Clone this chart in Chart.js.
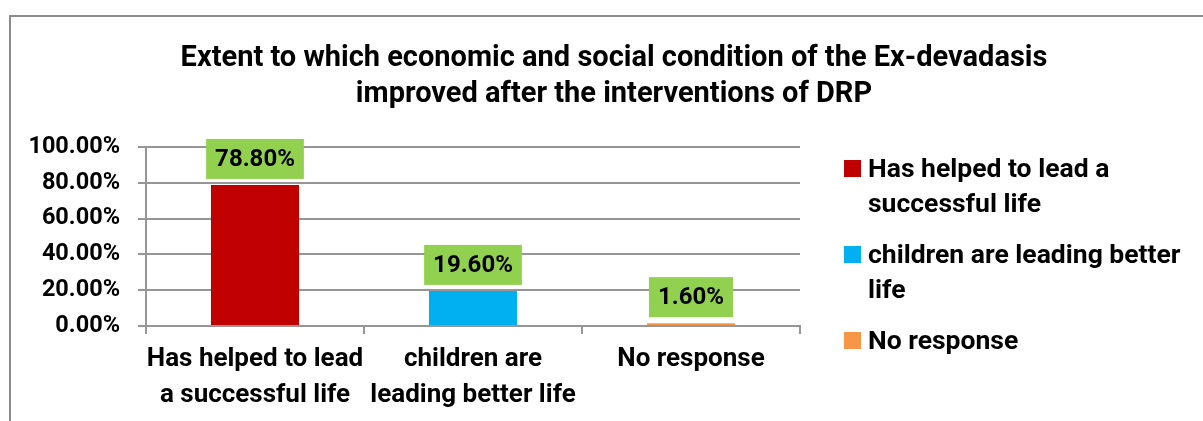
<!DOCTYPE html>
<html>
<head>
<meta charset="utf-8">
<script src="https://cdn.jsdelivr.net/npm/chart.js@4.4.1/dist/chart.umd.min.js"></script>
<style>
html, body { margin: 0; padding: 0; background: #fff; }
</style>
</head>
<body>
<canvas id="chart" width="1203" height="421"></canvas>
<script>
'use strict';

const TITLE_LINES = ['Extent to which economic and social condition of the Ex-devadasis', 'improved after the interventions of DRP'];
const CATEGORIES = [['Has helped to lead', 'a successful life'], ['children are', 'leading better life'], 'No response'];
const LEGEND_LABELS = [['Has helped to lead a', 'successful life'], ['children are leading better', 'life'], ['No response']];
const VALUES = [78.8, 19.6, 1.6];
const Y_TICKS = [0, 20, 40, 60, 80, 100];
const BAR_COLORS = ['#C00000', '#00B0F0', '#F79646'];

const FONT = 'Roboto';
const GRID = '#969696';

// frame + white background
const framePlugin = {
    id: 'frame',
    beforeDraw(chart) {
        const ctx = chart.ctx;
        ctx.save();
        ctx.fillStyle = '#fff';
        ctx.fillRect(0, 0, chart.width, chart.height);
        ctx.strokeStyle = '#8c8c8c';
        ctx.lineWidth = 2;
        ctx.beginPath();
        ctx.moveTo(10, chart.height);
        ctx.lineTo(10, 16);
        ctx.lineTo(chart.width, 16);
        ctx.stroke();
        ctx.restore();
    }
};

const titlePlugin = {
    id: 'twoLineTitle',
    afterDraw(chart) {
        const ctx = chart.ctx;
        ctx.save();
        ctx.font = 'bold 29px ' + FONT;
        ctx.fillStyle = '#000';
        ctx.textAlign = 'center';
        ctx.textBaseline = 'alphabetic';
        TITLE_LINES.forEach((line, i) => ctx.fillText(line, 614, 66 + i * 36));
        ctx.restore();
    }
};

const labelPlugin = {
    id: 'greenLabels',
    afterDatasetsDraw(chart) {
        const ctx = chart.ctx;
        const meta = chart.getDatasetMeta(0);
        ctx.save();
        ctx.font = 'bold 24px ' + FONT;
        ctx.textAlign = 'center';
        ctx.textBaseline = 'middle';
        meta.data.forEach((bar, i) => {
            const text = VALUES[i].toFixed(2) + '%';
            const w = ctx.measureText(text).width + 18;
            const h = 40;
            const bottom = bar.y - 6;
            ctx.fillStyle = '#92D050';
            ctx.fillRect(bar.x - w / 2, bottom - h, w, h);
            ctx.fillStyle = '#000';
            ctx.fillText(text, bar.x, bottom - h / 2 + 1);
        });
        ctx.restore();
    }
};

const legendPlugin = {
    id: 'sideLegend',
    afterDraw(chart) {
        const ctx = chart.ctx;
        const x = chart.chartArea.right + 44;
        let base = 177;
        ctx.save();
        ctx.font = 'bold 26.5px ' + FONT;
        ctx.textBaseline = 'alphabetic';
        LEGEND_LABELS.forEach((lines, i) => {
            ctx.fillStyle = BAR_COLORS[i];
            ctx.fillRect(x, base - 17, 17, 17);
            ctx.fillStyle = '#000';
            lines.forEach((line, j) => ctx.fillText(line, x + 24, base + j * 35));
            base += lines.length * 35 + 16;
        });
        ctx.restore();
    }
};

new Chart(document.getElementById('chart'), {
    type: 'bar',
    data: {
        labels: CATEGORIES,
        datasets: [{
            data: VALUES,
            backgroundColor: BAR_COLORS,
            barPercentage: 0.404,
            categoryPercentage: 1
        }]
    },
    options: {
        responsive: false,
        animation: false,
        devicePixelRatio: 1,
        layout: { padding: { left: 26, right: 403, top: 147, bottom: 0 } },
        plugins: {
            legend: { display: false },
            title: { display: false },
            tooltip: { enabled: false }
        },
        scales: {
            x: {
                ticks: {
                    color: '#000',
                    font: { family: FONT, weight: 'bold', size: 26, lineHeight: 1.36 },
                    padding: 8,
                    maxRotation: 0,
                    autoSkip: false
                },
                grid: { display: true, drawOnChartArea: false, offset: true, tickLength: 8, color: GRID, lineWidth: 2 },
                border: { color: GRID, width: 2 },
                afterFit(scale) { scale.height = 95; }
            },
            y: {
                min: 0,
                max: 100,
                afterBuildTicks(scale) { scale.ticks = Y_TICKS.map(v => ({ value: v })); },
                ticks: {
                    color: '#000',
                    font: { family: FONT, weight: 'bold', size: 23.5 },
                    padding: 18,
                    callback: v => v.toFixed(2) + '%'
                },
                grid: { color: GRID, lineWidth: 2, tickLength: 8 },
                border: { color: GRID, width: 2 },
                afterFit(scale) { scale.width = 120; }
            }
        }
    },
    plugins: [framePlugin, titlePlugin, labelPlugin, legendPlugin]
});
</script>
</body>
</html>
